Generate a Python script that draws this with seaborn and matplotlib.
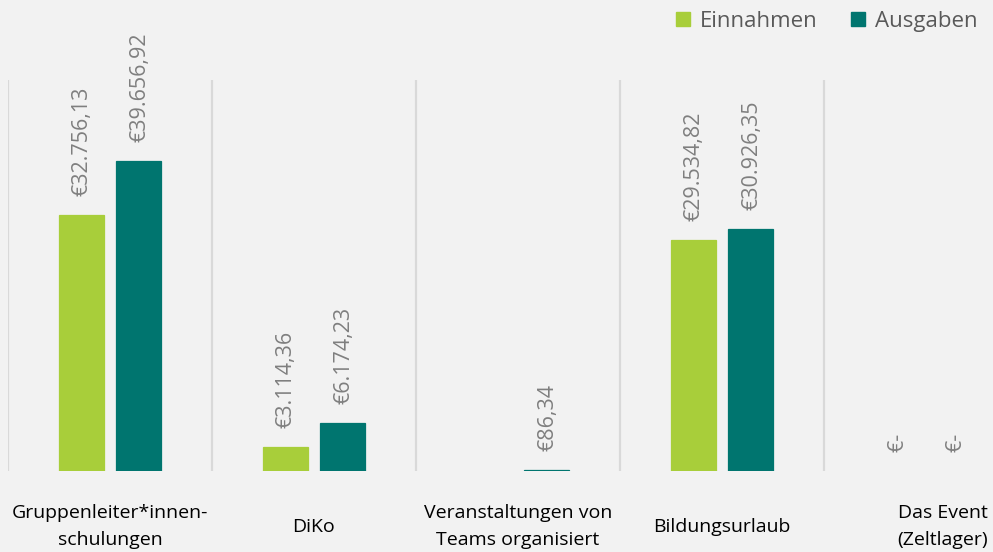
import numpy as np
import pandas as pd
import matplotlib
matplotlib.use("Agg")
import matplotlib.pyplot as plt
import matplotlib.transforms as mtransforms
import seaborn as sns

categories = ["Gruppenleiter*innen-\nschulungen", "DiKo", "Veranstaltungen von\nTeams organisiert",
              "Bildungsurlaub", "Das Event\n(Zeltlager)"]
einnahmen = [32756.13, 3114.36, np.nan, 29534.82, 0.0]
ausgaben = [39656.92, 6174.23, 86.34, 30926.35, 0.0]
series = ["Einnahmen", "Ausgaben"]
colors = ["#A8CE3A", "#00756F"]

rows = []
for c, e, a in zip(categories, einnahmen, ausgaben):
    rows.append((c, "Einnahmen", e))
    rows.append((c, "Ausgaben", a))
df = pd.DataFrame(rows, columns=["cat", "serie", "wert"]).dropna()

sns.set_theme(style="white")
plt.rcParams['font.family'] = ['Open Sans', 'DejaVu Sans']

BG = "#F2F2F2"
fig = plt.figure(figsize=(9.93, 5.52), dpi=100, facecolor=BG)
ax = fig.add_axes([8/993, 81/552, 1020/993, 391/552])
ax.set_facecolor(BG)

sns.barplot(data=df, x="cat", y="wert", hue="serie", order=categories, hue_order=series,
            palette=colors, width=0.56, gap=0.2, saturation=1, ax=ax, legend=False,
            errorbar=None, linewidth=0)

ax.set_xlim(-0.5, 4.5)
ax.set_ylim(0, 50000)

def fmt(v):
    if v == 0:
        return "€-"
    s = f"{v:,.2f}".replace(",", "X").replace(".", ",").replace("X", ".")
    return "€" + s

for cont in ax.containers:
    for p in cont.patches:
        h = p.get_height()
        if np.isnan(h):
            continue
        if h > 0:
            p.set_edgecolor(p.get_facecolor())
            p.set_linewidth(0.9)
        ax.annotate(fmt(h), (p.get_x() + p.get_width()/2, h), xytext=(1, 19),
                    textcoords="offset pixels", rotation=90, ha="center", va="bottom",
                    fontsize=15.5, color="#7F7F7F", annotation_clip=False)

# separators
for xb in np.arange(-0.5, 5.0, 1.0):
    ax.axvline(xb, color="#D9D9D9", lw=1.6, zorder=0)

for s in ax.spines.values():
    s.set_visible(False)
ax.set_yticks([])
ax.set_xlabel("")
ax.set_ylabel("")
ax.set_xticks(range(len(categories)))
ax.set_xticklabels(categories, fontsize=14, color="#000000", va="center", linespacing=1.7)
ax.tick_params(axis="x", length=0, pad=40)
last = ax.get_xticklabels()[-1]
last.set_transform(last.get_transform() + mtransforms.ScaledTranslation(0.17, 0, fig.dpi_scale_trans))

handles = [plt.Rectangle((0, 0), 1, 1, color=c) for c in colors]
fig.legend(handles, series, loc="upper right", bbox_to_anchor=(0.998, 1.005), ncol=2,
           frameon=False, fontsize=16, handlelength=0.62, handleheight=0.62,
           handletextpad=0.45, columnspacing=1.5, labelcolor="#595959", borderaxespad=0.2)

fig.savefig("out.png", dpi=100, facecolor=BG)
